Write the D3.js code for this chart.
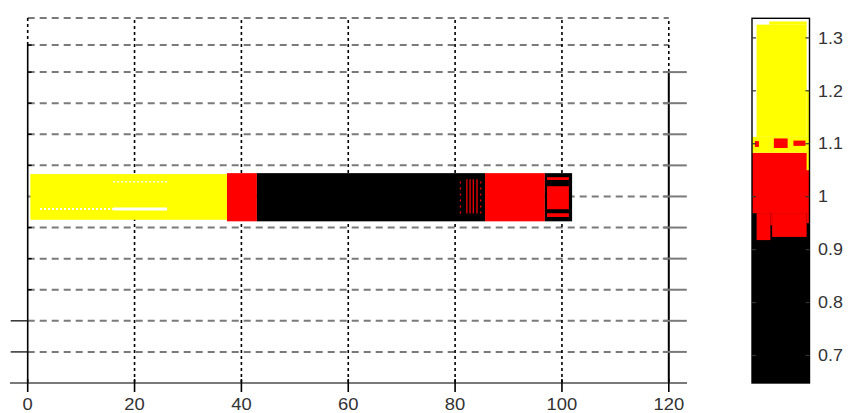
<!DOCTYPE html>
<html>
<head>
<meta charset="utf-8">
<script src="https://cdn.jsdelivr.net/npm/d3@7"></script>
<style>
  html, body { margin: 0; padding: 0; background: #fff; }
  svg { display: block; }
  text { font-family: "Liberation Sans", Arial, sans-serif; fill: #333; }
</style>
</head>
<body>
<svg id="chart" width="851" height="413"></svg>
<script>
// x axis ticks and the dashed / dotted grid
const xTicks = [0, 20, 40, 60, 80, 100, 120];
const xGrid = [20, 40, 60, 80, 100];
const yGrid = [1, 2, 3, 4, 5, 6, 7, 8, 9, 10, 10.87, 11.74];
const leftInTicks = [3, 4, 5, 7, 8, 9, 10, 10.87];
const leftOutTicks = [1, 2];
const rightTicks = [1, 2, 3, 4, 5, 6, 7, 8, 9, 10];

// the long horizontal bar, segment by segment
const barBottom = 5.2;
const barTop = 6.75;
const barSegments = [
  { x0: 0.5, x1: 37.3, y0: 5.25, y1: 6.72, color: "#ffff00" },
  { x0: 37.3, x1: 42.9, y0: barBottom, y1: barTop, color: "#ff0000" },
  { x0: 42.9, x1: 85.6, y0: barBottom, y1: barTop, color: "#000000" },
  { x0: 85.6, x1: 96.8, y0: barBottom, y1: barTop, color: "#ff0000" },
  { x0: 96.8, x1: 101.9, y0: barBottom, y1: barTop, color: "#000000" },
  { x0: 97.2, x1: 101.3, y0: 6.53, y1: 6.62, color: "#ff0000" },
  { x0: 97.2, x1: 101.3, y0: 5.34, y1: 5.46, color: "#ff0000" },
  { x0: 97.2, x1: 101.3, y0: 5.59, y1: 6.33, color: "#ff0000" }
];
// red traces inside the black part
const redTraceX = [81.0, 82.2, 82.8, 83.4, 84.1, 84.8];
// white gaps inside the yellow part
const whiteGaps = [
  { x0: 16, x1: 26.1, y: 6.47, dash: "2,2", w: 1.5 },
  { x0: 2.3, x1: 16, y: 5.6, dash: "2,2", w: 2 },
  { x0: 16, x1: 26.1, y: 5.6, dash: null, w: 3 }
];

// colour bar
const cbTicks = [0.7, 0.8, 0.9, 1, 1.1, 1.2, 1.3];
const cbDomain = [0.648, 1.337];
const cbBlocks = [
  { f0: 0, f1: 1, v0: 0.648, v1: 0.969, color: "#000000" },
  { f0: 0, f1: 1, v0: 0.969, v1: 1.083, color: "#ff0000" },
  { f0: 0.08, f1: 0.32, v0: 0.918, v1: 0.969, color: "#ff0000" },
  { f0: 0.32, f1: 0.35, v0: 0.946, v1: 0.969, color: "#ff0000" },
  { f0: 0.35, f1: 0.95, v0: 0.924, v1: 0.969, color: "#ff0000" },
  { f0: 0.95, f1: 1, v0: 0.95, v1: 0.969, color: "#ff0000" },
  { f0: 0, f1: 1, v0: 1.083, v1: 1.113, color: "#ffff00" },
  { f0: 0.08, f1: 0.95, v0: 1.113, v1: 1.325, color: "#ffff00" },
  { f0: 0.3, f1: 0.95, v0: 1.325, v1: 1.331, color: "#ffff00" },
  { f0: 0.95, f1: 1, v0: 1.05, v1: 1.2, color: "#ffff00" },
  { f0: 0.05, f1: 0.12, v0: 1.094, v1: 1.105, color: "#ff0000" },
  { f0: 0.38, f1: 0.62, v0: 1.092, v1: 1.11, color: "#ff0000" },
  { f0: 0.72, f1: 0.93, v0: 1.096, v1: 1.106, color: "#ff0000" }
];

const svg = d3.select("#chart");
const x = d3.scaleLinear().domain([0, 120]).range([27.7, 668.8]);
const y = d3.scaleLinear().domain([0, 11.74]).range([383, 18]);
const cx = d3.scaleLinear().domain([0, 1]).range([752, 809.5]);
const cy = d3.scaleLinear().domain(cbDomain).range([383, 18.3]);

svg.append("rect").attr("width", 851).attr("height", 413).attr("fill", "#fff");

// horizontal dashed grid
svg.append("g")
  .selectAll("line")
  .data(yGrid)
  .join("line")
  .attr("x1", x(0))
  .attr("x2", x(120))
  .attr("y1", (d) => y(d))
  .attr("y2", (d) => y(d))
  .attr("stroke", "#7a7a7a")
  .attr("stroke-width", 2)
  .attr("stroke-dasharray", "7,5");

// vertical dotted grid
svg.append("g")
  .selectAll("line")
  .data(xGrid)
  .join("line")
  .attr("x1", (d) => x(d))
  .attr("x2", (d) => x(d))
  .attr("y1", y(0))
  .attr("y2", y(11.74))
  .attr("stroke", "#000")
  .attr("stroke-width", 1.6)
  .attr("stroke-dasharray", "3,3");

// dotted box corners above the solid axes
svg.append("line")
  .attr("x1", x(0)).attr("x2", x(0))
  .attr("y1", y(10.87)).attr("y2", y(11.74))
  .attr("stroke", "#000").attr("stroke-width", 1.6).attr("stroke-dasharray", "3,3");
svg.append("line")
  .attr("x1", x(120)).attr("x2", x(120))
  .attr("y1", y(10)).attr("y2", y(11.74))
  .attr("stroke", "#000").attr("stroke-width", 1.6).attr("stroke-dasharray", "3,3");

// solid axis lines
svg.append("line")
  .attr("x1", x(0)).attr("x2", x(0))
  .attr("y1", y(0)).attr("y2", y(10.87))
  .attr("stroke", "#000").attr("stroke-width", 1.6);
svg.append("line")
  .attr("x1", x(120)).attr("x2", x(120))
  .attr("y1", y(0)).attr("y2", y(10))
  .attr("stroke", "#000").attr("stroke-width", 2);

// right ticks crossing the axis
svg.append("g")
  .selectAll("line")
  .data(rightTicks)
  .join("line")
  .attr("x1", x(120) - 6)
  .attr("x2", x(120) + 18)
  .attr("y1", (d) => y(d))
  .attr("y2", (d) => y(d))
  .attr("stroke", "#7a7a7a")
  .attr("stroke-width", 2);

// left ticks
svg.append("g")
  .selectAll("line")
  .data(leftInTicks)
  .join("line")
  .attr("x1", x(0))
  .attr("x2", x(0) + 4)
  .attr("y1", (d) => y(d))
  .attr("y2", (d) => y(d))
  .attr("stroke", "#000")
  .attr("stroke-width", 1.4);
svg.append("g")
  .selectAll("line")
  .data(leftOutTicks)
  .join("line")
  .attr("x1", x(0) - 17)
  .attr("x2", x(0))
  .attr("y1", (d) => y(d))
  .attr("y2", (d) => y(d))
  .attr("stroke", "#222")
  .attr("stroke-width", 1.4);

// bar segments
svg.append("g")
  .selectAll("rect")
  .data(barSegments)
  .join("rect")
  .attr("x", (d) => x(d.x0))
  .attr("y", (d) => y(d.y1))
  .attr("width", (d) => x(d.x1) - x(d.x0))
  .attr("height", (d) => y(d.y0) - y(d.y1))
  .attr("fill", (d) => d.color);

svg.append("g")
  .selectAll("line")
  .data(redTraceX)
  .join("line")
  .attr("x1", (d) => x(d))
  .attr("x2", (d) => x(d))
  .attr("y1", y(5.45))
  .attr("y2", y(6.55))
  .attr("stroke", "#ff0000")
  .attr("stroke-width", 1.2)
  .attr("stroke-dasharray", (d, i) => (i === 0 || i === redTraceX.length - 1 ? "2,4" : null));

svg.append("g")
  .selectAll("line")
  .data(whiteGaps)
  .join("line")
  .attr("x1", (d) => x(d.x0))
  .attr("x2", (d) => x(d.x1))
  .attr("y1", (d) => y(d.y))
  .attr("y2", (d) => y(d.y))
  .attr("stroke", "#fff")
  .attr("stroke-width", (d) => d.w)
  .attr("stroke-dasharray", (d) => d.dash);

// x axis
svg.append("line")
  .attr("x1", 10).attr("x2", 687)
  .attr("y1", y(0)).attr("y2", y(0))
  .attr("stroke", "#7a7a7a").attr("stroke-width", 2);

const xAxis = svg.append("g");
xAxis.selectAll("line")
  .data(xTicks)
  .join("line")
  .attr("x1", (d) => x(d))
  .attr("x2", (d) => x(d))
  .attr("y1", y(0) - 4)
  .attr("y2", y(0) + 9)
  .attr("stroke", "#000")
  .attr("stroke-width", 1.6);
xAxis.selectAll("text")
  .data(xTicks)
  .join("text")
  .attr("x", (d) => x(d))
  .attr("y", 410)
  .attr("text-anchor", "middle")
  .attr("font-size", 16)
  .attr("transform", (d) => `translate(${x(d)},0) scale(1.15,1) translate(${-x(d)},0)`)
  .text((d) => d);

// colour bar
const cb = svg.append("g");
cb.selectAll("rect")
  .data(cbBlocks)
  .join("rect")
  .attr("x", (d) => cx(d.f0))
  .attr("y", (d) => cy(d.v1))
  .attr("width", (d) => cx(d.f1) - cx(d.f0))
  .attr("height", (d) => cy(d.v0) - cy(d.v1))
  .attr("fill", (d) => d.color);

cb.append("rect")
  .attr("x", cx(0))
  .attr("y", cy(cbDomain[1]))
  .attr("width", cx(1) - cx(0))
  .attr("height", cy(cbDomain[0]) - cy(cbDomain[1]))
  .attr("fill", "none")
  .attr("stroke", "#000")
  .attr("stroke-width", 1.4);

cb.selectAll("line.lt")
  .data(cbTicks)
  .join("line")
  .attr("class", "lt")
  .attr("x1", cx(0))
  .attr("x2", cx(0) + 4)
  .attr("y1", (d) => cy(d))
  .attr("y2", (d) => cy(d))
  .attr("stroke", "#333")
  .attr("stroke-width", 1.2);
cb.selectAll("line.rt")
  .data(cbTicks)
  .join("line")
  .attr("class", "rt")
  .attr("x1", cx(1) - 4)
  .attr("x2", cx(1))
  .attr("y1", (d) => cy(d))
  .attr("y2", (d) => cy(d))
  .attr("stroke", "#333")
  .attr("stroke-width", 1.2);

cb.selectAll("text")
  .data(cbTicks)
  .join("text")
  .attr("x", 818)
  .attr("y", (d) => cy(d))
  .attr("dy", "0.36em")
  .attr("font-size", 16)
  .attr("transform", `translate(818,0) scale(1.12,1) translate(-818,0)`)
  .text((d) => d);
</script>
</body>
</html>
